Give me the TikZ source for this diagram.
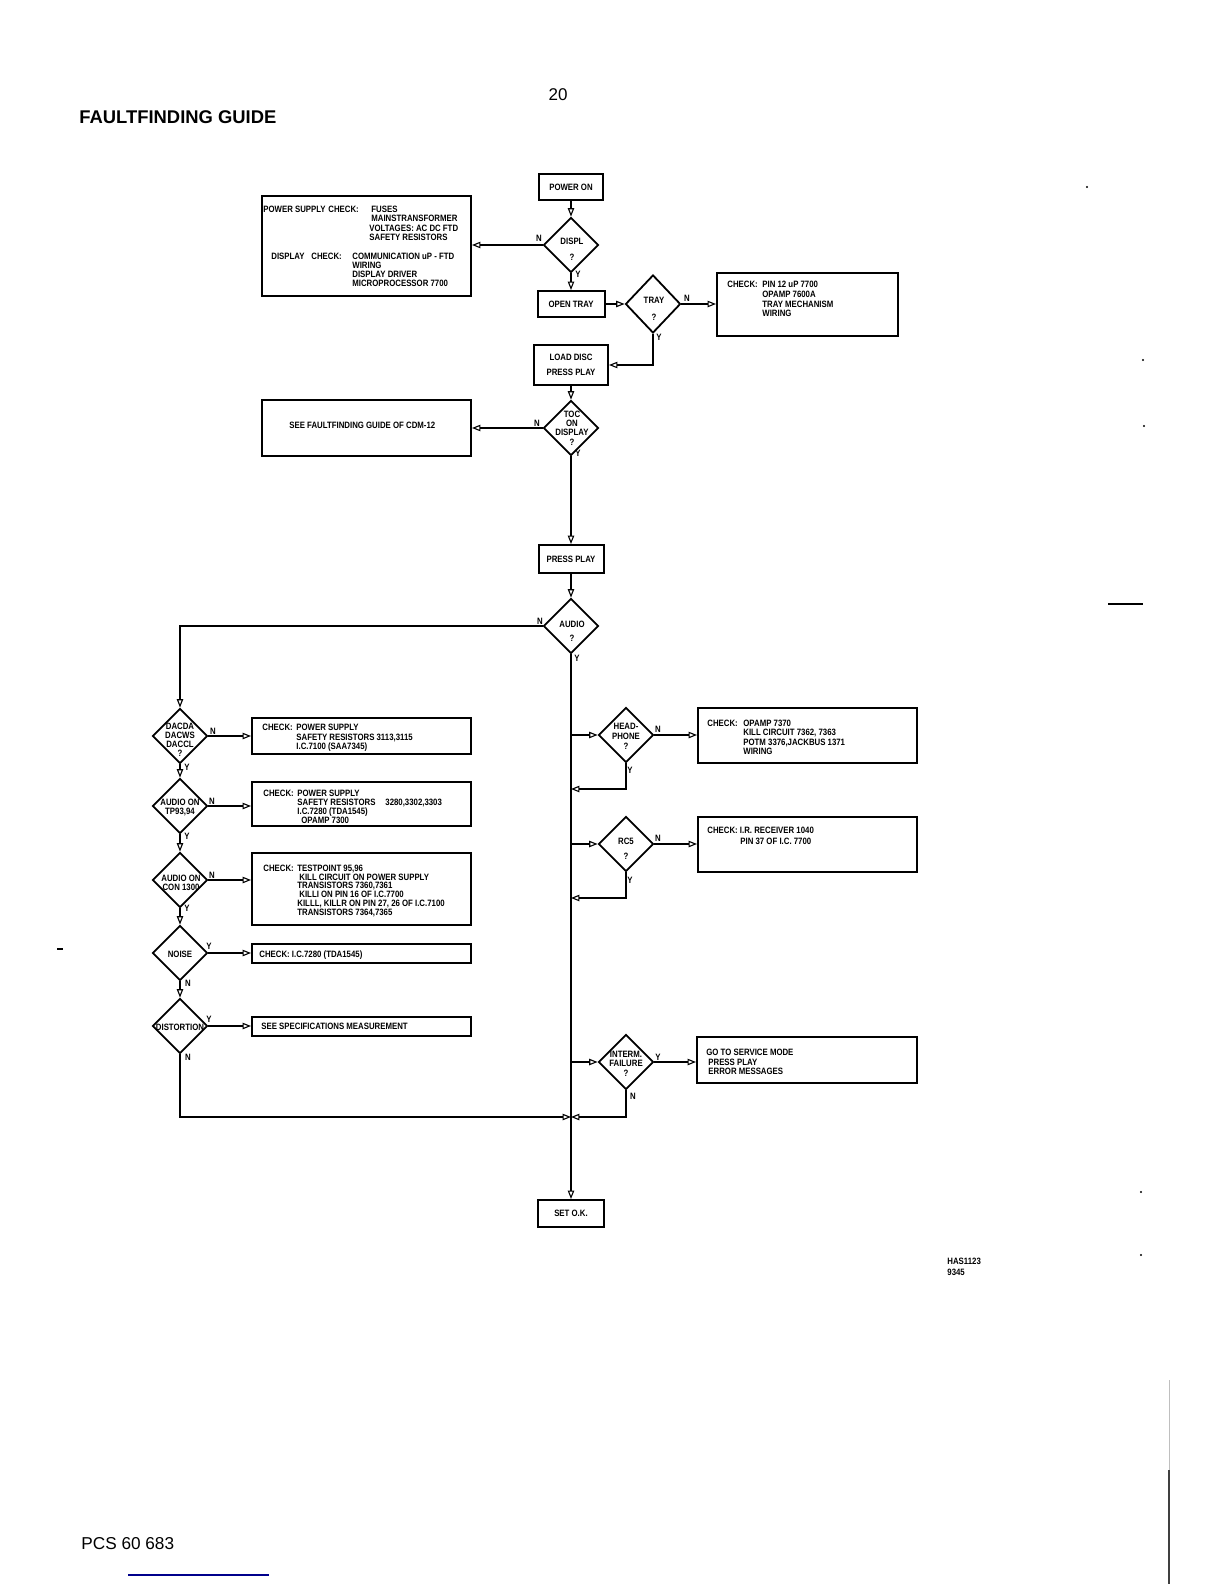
\documentclass[tikz,border=0pt]{standalone}
\usepackage{fontspec}
\setmainfont{Liberation Sans}
\newfontfamily\cfont{Liberation Sans}[FakeStretch=0.85]
\usetikzlibrary{arrows.meta,shapes.geometric}
\newcommand\tf{\cfont\bfseries\fontsize{4.6}{4.7}\selectfont}
\newcommand\tfs[1]{\cfont\bfseries\fontsize{4.6}{#1}\selectfont}
\begin{document}
\begin{tikzpicture}[x=0.5pt,y=-0.5pt,
 box/.style={draw, line width=1pt, rectangle, inner sep=0pt, font=\tf, align=center},
 dia/.style={draw, line width=0.9pt, diamond, inner sep=0pt, minimum width=27.5pt, minimum height=27.5pt},
 dtxt/.style={inner sep=0pt, font=\tf, align=center},
 txt/.style={inner sep=0pt, font=\tf, align=left, anchor=north west},
 lbl/.style={inner sep=0pt, font=\tf},
 conn/.style={line width=0.85pt, -{Triangle[open,length=4.2pt,width=3.2pt,line width=0.55pt]}}
]
\fill[white] (0,0) rectangle (1224,1584);
\useasboundingbox (0,0) rectangle (1224,1584);

% headings
\node[inner sep=0pt, anchor=base, font=\fontsize{8.5}{10}\selectfont] (pagenum) at (558,101) {20};
\node[inner sep=0pt, anchor=base west, font=\fontsize{9.2}{11}\selectfont\bfseries] (title) at (79,123.5) {FAULTFINDING GUIDE};
\node[inner sep=0pt, anchor=base west, font=\fontsize{8.6}{10}\selectfont] (foot) at (81,1549) {PCS 60 683};
\node[txt, font=\tfs{5.5pt}] (has) at (947,1257.7) {HAS1123\\9345};

% main column
\node[box, minimum width=32pt, minimum height=13pt] (pon) at (571,187) {POWER ON};
\node[dia] (displ) at (571,245) {};
\node[dtxt] (displt) at (572,249) {DISPL\\[3.3pt]?};

\node[box, minimum width=104.5pt, minimum height=50pt] (psbox) at (366.5,246) {};
\node[txt] (ps1) at (263,205.7) {POWER SUPPLY};
\node[txt] (ps2) at (328,205.7) {CHECK:};
\node[txt] (ps3) at (369,205.7) {\hspace*{1pt}FUSES\\\hspace*{1pt}MAINSTRANSFORMER\\VOLTAGES: AC DC FTD\\SAFETY RESISTORS};
\node[txt] (ps4) at (271,252.7) {DISPLAY};
\node[txt] (ps5) at (311,252.7) {CHECK:};
\node[txt, font=\tfs{4.55pt}] (ps6) at (352,252.7) {COMMUNICATION uP - FTD\\WIRING\\DISPLAY DRIVER\\MICROPROCESSOR 7700};

\node[box, minimum width=33.5pt, minimum height=13pt] (otray) at (571,304) {OPEN TRAY};
\node[dia, minimum height=29pt] (tray) at (653,304) {};
\node[dtxt] (trayt) at (654,309) {TRAY\\[3.8pt]?};
\node[box, minimum width=90.5pt, minimum height=31.5pt] (pinbox) at (807.5,304.5) {};
\node[txt] (pin1) at (727,280.7) {CHECK:};
\node[txt, font=\tfs{4.9pt}] (pin2) at (762,280.7) {PIN 12 uP 7700\\OPAMP 7600A\\TRAY MECHANISM\\WIRING};

\node[box, minimum width=37pt, minimum height=20pt] (load) at (571,365) {LOAD DISC\\[2.8pt]PRESS PLAY};

\node[dia] (toc) at (571,428) {};
\node[dtxt, font=\tfs{4.6pt}] (toct) at (572,428) {TOC\\ON\\DISPLAY\\?};
\node[box, minimum width=104.5pt, minimum height=28pt] (seebox) at (366.5,428) {};
\node[txt] (seet) at (289,421.7) {SEE FAULTFINDING GUIDE OF CDM-12};

\node[box, minimum width=32.5pt, minimum height=14pt] (pplay) at (571,559) {PRESS PLAY};
\node[dia] (audio) at (571,626) {};
\node[dtxt] (audiot) at (572,631) {AUDIO\\[2.3pt]?};

% left column
\node[dia] (dac) at (180,736) {};
\node[dtxt, font=\tfs{4.5pt}] (dact) at (180,740) {DACDA\\DACWS\\DACCL\\?};
\node[box, minimum width=109.5pt, minimum height=18pt] (b1) at (361.5,736) {};
\node[txt] (b1a) at (262,723.7) {CHECK:};
\node[txt, font=\tfs{4.75pt}] (b1b) at (296,723.7) {POWER SUPPLY\\SAFETY RESISTORS 3113,3115\\I.C.7100 (SAA7345)};

\node[dia] (tp) at (180,806) {};
\node[dtxt, font=\tfs{4.5pt}] (tpt) at (180,807.5) {AUDIO ON\\TP93,94};
\node[box, minimum width=109.5pt, minimum height=22pt] (b2) at (361.5,803.5) {};
\node[txt] (b2a) at (263,789.7) {CHECK:};
\node[txt, font=\tfs{4.5pt}] (b2b) at (297,789.7) {POWER SUPPLY\\SAFETY RESISTORS\\I.C.7280 (TDA1545)\\\hspace*{2pt}OPAMP 7300};
\node[txt] (b2c) at (385,798.7) {3280,3302,3303};

\node[dia] (con) at (180,880) {};
\node[dtxt, font=\tfs{4.5pt}] (cont) at (181,882.5) {AUDIO ON\\CON 1300};
\node[box, minimum width=109.5pt, minimum height=36pt] (b3) at (361.5,889) {};
\node[txt] (b3a) at (263,864.7) {CHECK:};
\node[txt, font=\tfs{4.35pt}] (b3b) at (297,864.7) {TESTPOINT 95,96\\\hspace*{1pt}KILL CIRCUIT ON POWER SUPPLY\\TRANSISTORS 7360,7361\\\hspace*{1pt}KILLI ON PIN 16 OF I.C.7700\\KILLL, KILLR ON PIN 27, 26 OF I.C.7100\\TRANSISTORS 7364,7365};

\node[dia] (noise) at (180,953) {};
\node[dtxt] (noiset) at (180,954) {NOISE};
\node[box, minimum width=109.5pt, minimum height=9.5pt] (b4) at (361.5,953.5) {};
\node[txt] (b4a) at (259,950.7) {CHECK: I.C.7280 (TDA1545)};

\node[dia] (dist) at (180,1026) {};
\node[dtxt] (distt) at (180,1027) {DISTORTION};
\node[box, minimum width=109.5pt, minimum height=9.5pt] (b5) at (361.5,1026.5) {};
\node[txt] (b5a) at (261,1022.7) {SEE SPECIFICATIONS MEASUREMENT};

% right column
\node[dia] (head) at (626,735) {};
\node[dtxt, font=\tfs{5pt}] (headt) at (626,736) {HEAD-\\PHONE\\?};
\node[box, minimum width=109.5pt, minimum height=27.5pt] (hbox) at (807.5,735.5) {};
\node[txt] (hboxa) at (707,719.7) {CHECK:};
\node[txt, font=\tfs{4.65pt}] (hboxb) at (743,719.7) {OPAMP 7370\\KILL CIRCUIT 7362, 7363\\POTM 3376,JACKBUS 1371\\WIRING};

\node[dia] (rc) at (626,844) {};
\node[dtxt] (rct) at (626,848.5) {RC5\\[2.8pt]?};
\node[box, minimum width=109.5pt, minimum height=27.5pt] (rbox) at (807.5,844.5) {};
\node[txt] (rboxa) at (707,826.2) {CHECK: I.R. RECEIVER 1040};
\node[txt] (rboxb) at (740,837.7) {PIN 37 OF I.C. 7700};

\node[dia] (interm) at (626,1062) {};
\node[dtxt, font=\tfs{4.75pt}] (intermt) at (626,1063.5) {INTERM.\\FAILURE\\?};
\node[box, minimum width=110pt, minimum height=23pt] (ibox) at (807,1060) {};
\node[txt, font=\tfs{4.75pt}] (iboxa) at (706,1048.7) {GO TO SERVICE MODE\\\hspace*{1pt}PRESS PLAY\\\hspace*{1pt}ERROR MESSAGES};

\node[box, minimum width=33pt, minimum height=13.5pt] (setok) at (571,1213.5) {SET O.K.};

\coordinate (hj) at (571,789);
\coordinate (rj) at (571,898);
\coordinate (bj) at (571,1117);

% connectors
\draw[conn] (pon) -- (displ);
\draw[conn] (displ.west) -- (displ.west -| psbox.east);
\draw[conn] (displ) -- (otray);
\draw[conn] (otray.east) -- (tray.west);
\draw[conn] (tray.east) -- (tray.east -| pinbox.west);
\draw[conn] (tray.south) |- (load.east);
\draw[conn] (load) -- (toc);
\draw[conn] (toc.west) -- (toc.west -| seebox.east);
\draw[conn] (toc) -- (pplay);
\draw[conn] (pplay) -- (audio);
\draw[conn] (audio.west) -| (dac.north);
\draw[conn] (audio) -- (setok);
\draw[conn] (audio.south |- head.west) -- (head.west);
\draw[conn] (head.east) -- (head.east -| hbox.west);
\draw[conn] (head.south) |- (hj);
\draw[conn] (audio.south |- rc.west) -- (rc.west);
\draw[conn] (rc.east) -- (rc.east -| rbox.west);
\draw[conn] (rc.south) |- (rj);
\draw[conn] (audio.south |- interm.west) -- (interm.west);
\draw[conn] (interm.east) -- (interm.east -| ibox.west);
\draw[conn] (interm.south) |- (bj);
\draw[conn] (dist.south) |- (bj);
\draw[conn] (dac) -- (tp);
\draw[conn] (tp) -- (con);
\draw[conn] (con) -- (noise);
\draw[conn] (noise) -- (dist);
\draw[conn] (dac.east) -- (dac.east -| b1.west);
\draw[conn] (tp.east) -- (tp.east -| b2.west);
\draw[conn] (con.east) -- (con.east -| b3.west);
\draw[conn] (noise.east) -- (noise.east -| b4.west);
\draw[conn] (dist.east) -- (dist.east -| b5.west);

% Y / N labels
\node[lbl] (l1) at (539,238) {N};
\node[lbl] (l2) at (578,274) {Y};
\node[lbl] (l3) at (687,298) {N};
\node[lbl] (l4) at (659,337) {Y};
\node[lbl] (l5) at (537,423) {N};
\node[lbl] (l6) at (578,453) {Y};
\node[lbl] (l7) at (540,621) {N};
\node[lbl] (l8) at (577,658) {Y};
\node[lbl] (l9) at (213,731) {N};
\node[lbl] (l10) at (187,767) {Y};
\node[lbl] (l11) at (212,801) {N};
\node[lbl] (l12) at (187,836) {Y};
\node[lbl] (l13) at (212,875) {N};
\node[lbl] (l14) at (187,908) {Y};
\node[lbl] (l15) at (209,946) {Y};
\node[lbl] (l16) at (188,983) {N};
\node[lbl] (l17) at (209,1019) {Y};
\node[lbl] (l18) at (188,1057) {N};
\node[lbl] (l19) at (658,729) {N};
\node[lbl] (l20) at (630,770) {Y};
\node[lbl] (l21) at (658,838) {N};
\node[lbl] (l22) at (630,880) {Y};
\node[lbl] (l23) at (658,1057) {Y};
\node[lbl] (l24) at (633,1096) {N};

% scan marks
\draw[line width=1pt] (1108,604) -- (1143,604);
\fill (1087,187) circle (0.6pt);
\fill (1143,360) circle (0.6pt);
\fill (1144,426) circle (0.6pt);
\fill (1141,1192) circle (0.6pt);
\fill (1141,1255) circle (0.6pt);
\draw[line width=0.6pt] (57,949) -- (63,949);
\draw[gray!50, line width=0.4pt] (1169,1380) -- (1169,1584);
\draw[black!75, line width=0.6pt] (1169,1470) -- (1169,1584);
\draw[blue!55!black, line width=0.6pt] (128,1575) -- (269,1575);
\end{tikzpicture}
\end{document}
